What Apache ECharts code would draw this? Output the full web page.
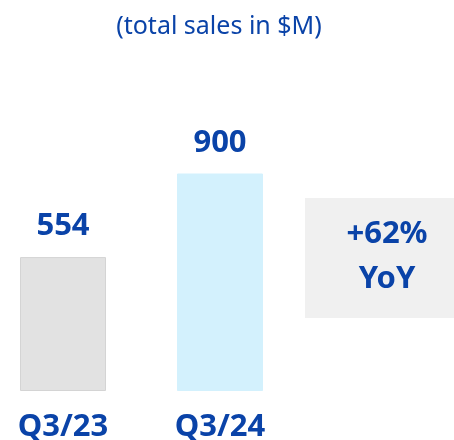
<!DOCTYPE html>
<html>
<head>
<meta charset="utf-8">
<script src="https://cdn.jsdelivr.net/npm/echarts@6/dist/echarts.min.js"></script>
<style>
  html, body { margin: 0; padding: 0; background: #fff; }
  #chart { width: 454px; height: 440px; }
</style>
</head>
<body>
<div id="chart"></div>
<script>
const categories = ['Q3/23', 'Q3/24']
const sales = [554, 900]

const blue = '#0a43a8'
const fontFamily = '"Noto Sans", "Open Sans", sans-serif'
// YoY growth
const yoy = Math.round((sales[1] / sales[0] - 1) * 100)

let myChart = echarts.init(document.getElementById('chart'))

myChart.setOption({
  animation: false,
  title: {
    text: '(total sales in $M)',
    left: 214,
    top: 9,
    textAlign: 'center',
    textStyle: {
      color: blue,
      fontFamily: fontFamily,
      fontWeight: 'normal',
      fontSize: 25
    }
  },
  // categories sit on the grid edges so the bars land at x=63 and x=220
  grid: {
    left: 63,
    right: 234,
    top: 101,
    bottom: 49,
    outerBoundsMode: 'none'
  },
  xAxis: {
    type: 'category',
    data: categories,
    boundaryGap: false,
    axisLine: { show: false },
    axisTick: { show: false },
    axisLabel: {
      margin: 21,
      color: blue,
      fontFamily: fontFamily,
      fontWeight: 'bold',
      fontSize: 31
    }
  },
  yAxis: {
    type: 'value',
    min: 0,
    max: 1200,
    show: false,
    splitLine: { show: false }
  },
  series: [
    {
      type: 'bar',
      barWidth: 86,
      data: [
        { value: sales[0], itemStyle: { color: '#e2e2e2', borderColor: '#d4d4d4', borderWidth: 1 } },
        { value: sales[1], itemStyle: { color: '#d3f1fd', borderColor: '#d3f1fd', borderWidth: 1 } }
      ],
      label: {
        show: true,
        position: 'top',
        distance: 15,
        color: blue,
        fontFamily: fontFamily,
        fontWeight: 'bold',
        fontSize: 31
      }
    }
  ],
  graphic: [
    {
      type: 'rect',
      shape: { x: 305, y: 198, width: 170, height: 120 },
      style: { fill: '#f0f0f0' }
    },
    {
      type: 'text',
      x: 387,
      y: 257,
      style: {
        text: '+' + yoy + '%\nYoY',
        align: 'center',
        verticalAlign: 'middle',
        lineHeight: 45,
        fill: blue,
        font: 'bold 31px ' + fontFamily
      }
    }
  ]
})
</script>
</body>
</html>
